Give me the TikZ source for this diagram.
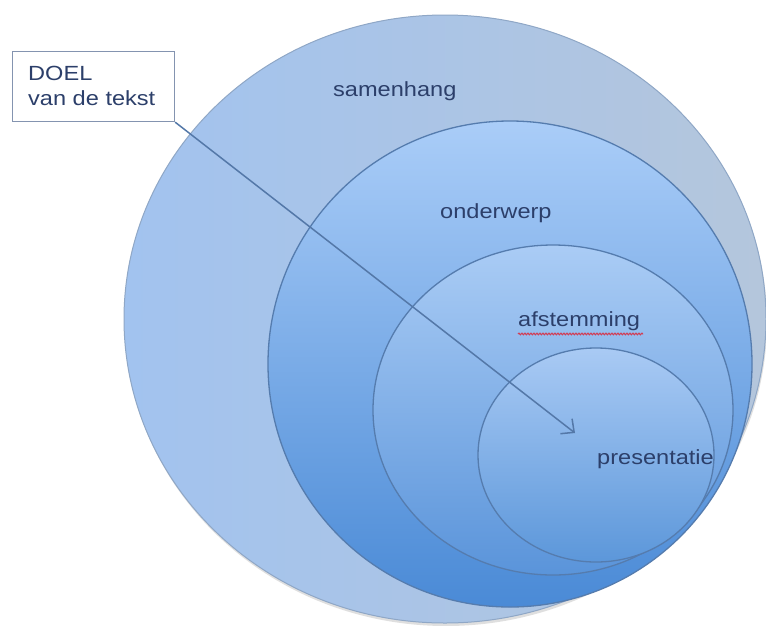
\documentclass[tikz,border=0pt]{standalone}
\usepackage{fontspec}
\setmainfont{Liberation Sans}[FakeStretch=1.15]
\usetikzlibrary{arrows.meta,shadows,decorations.pathmorphing}
\definecolor{txtblue}{HTML}{2C3F6A}
\definecolor{boxgray}{HTML}{8494B0}
\definecolor{arrowblue}{HTML}{5478A8}
\definecolor{outerL}{HTML}{A2C3EF}
\definecolor{outerR}{HTML}{B4C6DC}
\definecolor{outerB}{HTML}{8FA7C6}
\definecolor{ringB}{HTML}{557CAE}
\definecolor{twoT}{HTML}{AACDF8}
\definecolor{twoB}{HTML}{4A8AD6}
\definecolor{threeT}{HTML}{AACCF5}
\definecolor{threeB}{HTML}{5A94DA}
\definecolor{fourT}{HTML}{A9CAF4}
\definecolor{fourB}{HTML}{5C97DA}
\definecolor{spellred}{HTML}{D04058}
\begin{document}
\begin{tikzpicture}[x=1pt,y=-1pt,
  ring/.style={draw=ringB, line width=1.3pt},
  lbl/.style={anchor=base west, inner sep=0pt, text=txtblue,
    font=\fontsize{20.5}{25}\selectfont},
  pointer/.style={draw=arrowblue, line width=1.5pt,
    -{Straight Barb[length=10pt,width=19pt]}},
  doelbox/.style={draw=boxgray, line width=1.2pt, fill=white, inner sep=0pt,
    minimum width=162pt, minimum height=70pt, anchor=north west}]
\useasboundingbox (0,0) rectangle (766,625);
\fill[white] (0,0) rectangle (766,625);
% outer ring: samenhang
\path[left color=outerL, right color=outerR, draw=outerB, line width=1pt,
  drop shadow={shadow xshift=1pt, shadow yshift=-3pt, opacity=0.25, fill=gray}]
  (445,319) ellipse [x radius=321, y radius=304];
% onderwerp
\path[ring, top color=twoT, bottom color=twoB]
  (510,364) ellipse [x radius=242, y radius=243];
% afstemming
\path[ring, top color=threeT, bottom color=threeB]
  (553,410) ellipse [x radius=180, y radius=165];
% presentatie
\path[ring, top color=fourT, bottom color=fourB]
  (596,455) ellipse [x radius=118, y radius=107];
% labels
\node[lbl] (samenhang) at (333,96) {samenhang};
\node[lbl] (onderwerp) at (440,218) {onderwerp};
\node[lbl] (afstemming) at (518,326) {afstemming};
\node[lbl] (presentatie) at (597,464) {presentatie};
\draw[spellred, line width=1.1pt, decorate,
  decoration={snake, amplitude=0.8pt, segment length=3pt}]
  (afstemming.south west) ++(0,3.5) -- ++(125,0);
% DOEL box
\node[doelbox] (doel) at (12,51) {};
\node[lbl] (doelA) at (28,80) {DOEL};
\node[lbl] (doelB) at (28,105) {van de tekst};
\coordinate (tip) at (575,433);
\draw[pointer] (doel.south east) -- (tip);
\end{tikzpicture}
\end{document}
